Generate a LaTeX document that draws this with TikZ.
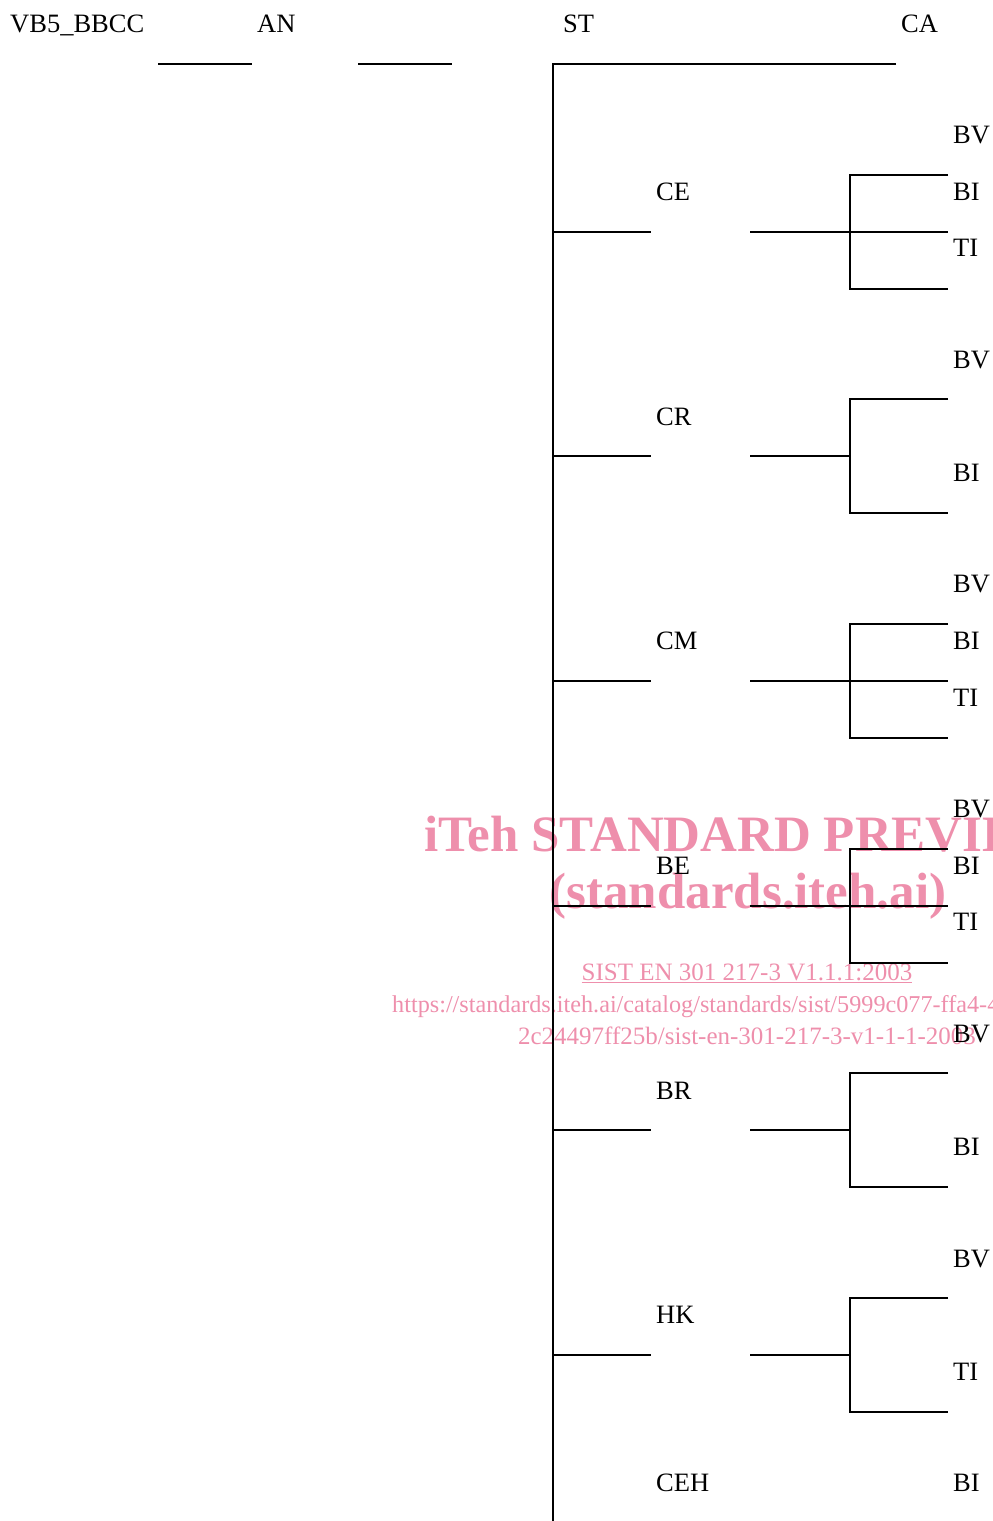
\documentclass[tikz,border=0pt]{standalone}
\usepackage{fontspec}
\setmainfont{Liberation Serif}
\usepackage{tikz}
\usetikzlibrary{positioning}
\definecolor{WMPink}{RGB}{238,143,172}

\begin{document}
\begin{tikzpicture}[
  x=1pt, y=-1pt,
  lbl/.style={anchor=base west, inner sep=0pt, font=\fontsize{26.5}{30}\selectfont},
  wm/.style={anchor=base, inner sep=0pt, text=WMPink, font=\fontsize{25}{30}\selectfont},
  wire/.style={line width=1.9pt, draw=black}
]
\useasboundingbox (0,0) rectangle (993,1521);
\clip (0,0) rectangle (993,1521);

% watermark (behind the tree)
\node[wm, font=\bfseries\fontsize{51}{60}\selectfont] (wmtitle) at (746,851) {iTeh STANDARD PREVIEW};
\node[wm, font=\bfseries\fontsize{51}{60}\selectfont] (wmsite) at (748,908) {(standards.iteh.ai)};
\node[wm] (wmdoc) at (747,980) {\underline{SIST EN 301 217-3 V1.1.1:2003}};
\node[wm, anchor=base west, font=\fontsize{24.2}{30}\selectfont] (wmurl) at (392,1012) {https://standards.iteh.ai/catalog/standards/sist/5999c077-ffa4-4};
\node[wm] (wmurltail) at (747,1044) {2c24497ff25b/sist-en-301-217-3-v1-1-1-2003};

% header
\node[lbl] (vb) at (10,32) {VB5\_BBCC};
\node[lbl] (an) at (257,32) {AN};
\node[lbl] (st) at (563,32) {ST};
\node[lbl] (ca) at (901,32) {CA};

\coordinate (an-a) at (158,64);
\coordinate (an-b) at (252,64);
\coordinate (st-a) at (358,64);
\coordinate (st-b) at (452,64);
\coordinate (trunk) at (553,64);
\coordinate (ca-end) at (896,64);
\coordinate (trunk-end) at (553,1521);

\draw[wire] (an-a) -- (an-b);
\draw[wire] (st-a) -- (st-b);
\draw[wire] (ca-end) -- (trunk) -- (trunk-end);

% branches
\foreach \g/\y in {ce/232,cr/456,cm/681,be/906,br/1130,hk/1355}{
  \coordinate (\g-t) at (553,\y);
  \coordinate (\g-in) at (651,\y);
  \coordinate (\g-out) at (750,\y);
  \coordinate (\g-j) at (850,\y);
  \coordinate (\g-up) at (850,\y-57);
  \coordinate (\g-dn) at (850,\y+57);
  \coordinate (\g-upe) at (948,\y-57);
  \coordinate (\g-dne) at (948,\y+57);
  \coordinate (\g-mid) at (948,\y);
  \draw[wire] (\g-t) -- (\g-in);
  \draw[wire] (\g-out) -- (\g-j);
  \draw[wire] (\g-upe) -- (\g-up) -- (\g-dn) -- (\g-dne);
}
\draw[wire] (ce-j) -- (ce-mid);
\draw[wire] (cm-j) -- (cm-mid);
\draw[wire] (be-j) -- (be-mid);

% group labels
\node[lbl] (ce) at (656,200) {CE};
\node[lbl] (cr) at (656,425) {CR};
\node[lbl] (cm) at (656,649) {CM};
\node[lbl] (be) at (656,874) {BE};
\node[lbl] (br) at (656,1099) {BR};
\node[lbl] (hk) at (656,1323) {HK};
\node[lbl] (ceh) at (656,1491) {CEH};

% leaf labels
\node[lbl] (ce-bv) at (953,143) {BV};
\node[lbl] (ce-bi) at (953,200) {BI};
\node[lbl] (ce-ti) at (953,256) {TI};
\node[lbl] (cr-bv) at (953,368) {BV};
\node[lbl] (cr-bi) at (953,481) {BI};
\node[lbl] (cm-bv) at (953,592) {BV};
\node[lbl] (cm-bi) at (953,649) {BI};
\node[lbl] (cm-ti) at (953,706) {TI};
\node[lbl] (be-bv) at (953,817) {BV};
\node[lbl] (be-bi) at (953,874) {BI};
\node[lbl] (be-ti) at (953,930) {TI};
\node[lbl] (br-bv) at (953,1042) {BV};
\node[lbl] (br-bi) at (953,1155) {BI};
\node[lbl] (hk-bv) at (953,1267) {BV};
\node[lbl] (hk-ti) at (953,1380) {TI};
\node[lbl] (ceh-bi) at (953,1491) {BI};
\end{tikzpicture}
\end{document}
